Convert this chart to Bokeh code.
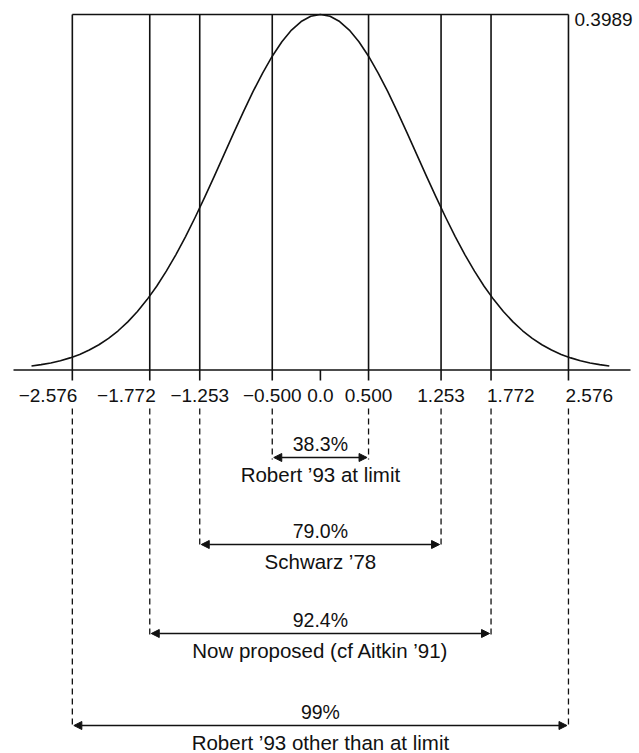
from bokeh.plotting import figure
from bokeh.models import Range1d, Arrow, NormalHead
from bokeh.core.properties import value
from bokeh.embed import file_html
from bokeh.resources import INLINE

# ---------------- data ----------------
curve_x = [-3.0, -2.9, -2.8, -2.7, -2.6, -2.5, -2.4, -2.3, -2.2, -2.1,
           -2.0, -1.9, -1.8, -1.7, -1.6, -1.5, -1.4, -1.3, -1.2, -1.1,
           -1.0, -0.9, -0.8, -0.7, -0.6, -0.5, -0.4, -0.3, -0.2, -0.1,
           0.0, 0.1, 0.2, 0.3, 0.4, 0.5, 0.6, 0.7, 0.8, 0.9,
           1.0, 1.1, 1.2, 1.3, 1.4, 1.5, 1.6, 1.7, 1.8, 1.9,
           2.0, 2.1, 2.2, 2.3, 2.4, 2.5, 2.6, 2.7, 2.8, 2.9, 3.0]
curve_y = [0.0044, 0.0060, 0.0079, 0.0104, 0.0136, 0.0175, 0.0224, 0.0283, 0.0355, 0.0440,
           0.0540, 0.0656, 0.0790, 0.0940, 0.1109, 0.1295, 0.1497, 0.1714, 0.1942, 0.2179,
           0.2420, 0.2661, 0.2897, 0.3123, 0.3332, 0.3521, 0.3683, 0.3814, 0.3910, 0.3970,
           0.3989, 0.3970, 0.3910, 0.3814, 0.3683, 0.3521, 0.3332, 0.3123, 0.2897, 0.2661,
           0.2420, 0.2179, 0.1942, 0.1714, 0.1497, 0.1295, 0.1109, 0.0940, 0.0790, 0.0656,
           0.0540, 0.0440, 0.0355, 0.0283, 0.0224, 0.0175, 0.0136, 0.0104, 0.0079, 0.0060, 0.0044]

peak_value = 0.3989
peak_label = "0.3989"
cut_points = [-2.576, -1.772, -1.253, -0.500, 0.500, 1.253, 1.772, 2.576]
tick_values = [-2.576, -1.772, -1.253, -0.500, 0.0, 0.500, 1.253, 1.772, 2.576]
tick_labels = ["\u22122.576", "\u22121.772", "\u22121.253", "\u22120.500", "0.0",
               "0.500", "1.253", "1.772", "2.576"]
interval_half = [0.500, 1.253, 1.772, 2.576]
interval_pct = ["38.3%", "79.0%", "92.4%", "99%"]
interval_name = ["Robert \u201993 at limit", "Schwarz \u201978",
                 "Now proposed (cf Aitkin \u201991)", "Robert \u201993 other than at limit"]

# ---------------- layout (canvas pixels -> data) ----------------
W, H = 639, 753
X0_PX, XSCALE = 319.9, 96.3          # x=0 position, px per unit
BASE_PX, TOP_PX = 369.5, 14.0         # baseline and peak line, px from top
KY = (BASE_PX - TOP_PX) / peak_value   # px per density unit

def dx(px):
    return (px - X0_PX) / XSCALE

def dy(px):
    return (BASE_PX - px) / KY

p = figure(width=W, height=H, output_backend="svg", toolbar_location=None,
           x_range=Range1d(dx(0), dx(W)), y_range=Range1d(dy(H), dy(0)),
           x_axis_location=None, y_axis_location=None,
           min_border=0, min_border_left=0, min_border_right=0,
           min_border_top=0, min_border_bottom=0)
p.grid.visible = False
p.outline_line_color = None
p.background_fill_color = "white"

FONT = value("Liberation Sans")
LW = 1.6
INK = "#111111"

# baseline
p.segment(x0=[dx(13)], y0=[0], x1=[dx(630)], y1=[0], line_color=INK, line_width=LW)
# top line across the outermost cut points
p.segment(x0=[cut_points[0]], y0=[peak_value], x1=[cut_points[-1]], y1=[peak_value],
          line_color=INK, line_width=LW)
# vertical lines at cut points (with tick below baseline)
tick_bottom = dy(BASE_PX + 10.5)
p.segment(x0=cut_points, y0=[tick_bottom] * len(cut_points),
          x1=cut_points, y1=[peak_value] * len(cut_points),
          line_color=INK, line_width=LW)
# tick at 0.0
p.segment(x0=[0.0], y0=[tick_bottom], x1=[0.0], y1=[0.0], line_color=INK, line_width=LW)

# normal curve
p.line(curve_x, curve_y, line_color=INK, line_width=1.6, line_join="round")

# peak label
p.text(x=[dx(574)], y=[dy(19)], text=[peak_label], text_font=FONT,
       text_font_size="19px", text_align="left", text_baseline="middle", text_color=INK)

# tick labels (outer labels pushed outward so they do not collide)
label_align = ["right", "right", "center", "center", "center", "center", "center", "left", "left"]
label_shift = [5, 6, 0, 0, 0, 0, 0, -4, -3]   # px
for v, t, a, s in zip(tick_values, tick_labels, label_align, label_shift):
    p.text(x=[v + s / XSCALE], y=[dy(394.5)], text=[t], text_font=FONT,
           text_font_size="19px", text_align=a, text_baseline="middle", text_color=INK)

# intervals
arrow_px = [457, 544, 633, 725]
dash_top = dy(408)
for h, pct, name, apx in zip(interval_half, interval_pct, interval_name, arrow_px):
    ay = dy(apx)
    p.segment(x0=[-h, h], y0=[dash_top, dash_top], x1=[-h, h], y1=[dy(apx + 2)] * 2,
              line_color=INK, line_width=1.3, line_dash="6 4")
    p.add_layout(Arrow(start=NormalHead(size=8, fill_color=INK, line_color=INK, line_width=1),
                       end=NormalHead(size=8, fill_color=INK, line_color=INK, line_width=1),
                       x_start=-h + 1.5 / XSCALE, y_start=ay, x_end=h - 1.5 / XSCALE, y_end=ay,
                       line_color=INK, line_width=1.4))
    p.text(x=[0.0], y=[dy(apx - 14)], text=[pct], text_font=FONT, text_font_size="19.5px",
           text_align="center", text_baseline="middle", text_color=INK)
    p.text(x=[0.0], y=[dy(apx + 16.5)], text=[name], text_font=FONT, text_font_size="20.5px",
           text_align="center", text_baseline="middle", text_color=INK)

open("out.html", "w").write(file_html(p, INLINE))
